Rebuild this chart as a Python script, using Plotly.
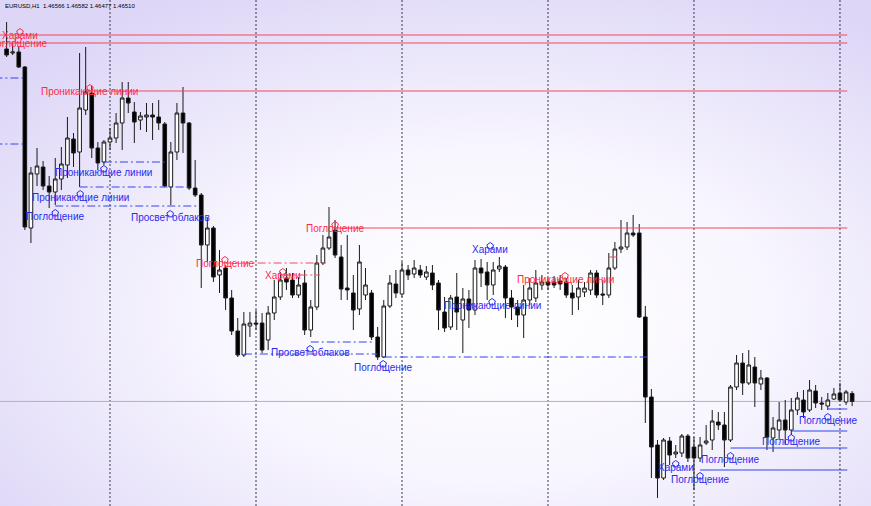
import base64
import plotly.graph_objects as go

# ---------------- data (EURUSD H1) ----------------
bars = list(range(140))

opens = [1.48977, 1.48949, 1.48956, 1.48851, 1.47724, 1.48102, 1.48151, 1.48018, 1.47976, 1.48067,
         1.48165, 1.48347, 1.48256, 1.48550, 1.48669, 1.48284, 1.48186, 1.48326, 1.48354, 1.48459,
         1.48634, 1.48536, 1.48480, 1.48501, 1.48515, 1.48501, 1.48452, 1.48011, 1.48256, 1.48529,
         1.48459, 1.48004, 1.47955, 1.47605, 1.47724, 1.47395, 1.47444, 1.47234, 1.47003, 1.46835,
         1.47038, 1.47059, 1.47059, 1.46940, 1.47129, 1.47241, 1.47374, 1.47360, 1.47255, 1.47339,
         1.47010, 1.47171, 1.47479, 1.47584, 1.47710, 1.47521, 1.47304, 1.47269, 1.47157, 1.47255,
         1.47269, 1.46961, 1.46821, 1.47178, 1.47332, 1.47262, 1.47430, 1.47402, 1.47430, 1.47381,
         1.47409, 1.47339, 1.47136, 1.47031, 1.47241, 1.47080, 1.47227, 1.47150, 1.47444, 1.47416,
         1.47325, 1.47437, 1.47451, 1.47234, 1.47171, 1.47115, 1.47220, 1.47234, 1.47325, 1.47346,
         1.47346, 1.47353, 1.47346, 1.47269, 1.47241, 1.47276, 1.47290, 1.47409, 1.47262, 1.47255,
         1.47444, 1.47577, 1.47591, 1.47689, 1.47689, 1.47101, 1.46541, 1.46205, 1.45974, 1.46233,
         1.46142, 1.46149, 1.46268, 1.46191, 1.46114, 1.46219, 1.46240, 1.46366, 1.46345, 1.46240,
         1.46611, 1.46779, 1.46639, 1.46751, 1.46632, 1.46674, 1.46254, 1.46310, 1.46380, 1.46310,
         1.46450, 1.46520, 1.46450, 1.46583, 1.46499, 1.46478, 1.46527, 1.46569, 1.46506, 1.46566]

closes = [1.48935, 1.48956, 1.48851, 1.47731, 1.48109, 1.48158, 1.48018, 1.47976, 1.48067, 1.48172,
          1.48354, 1.48249, 1.48564, 1.48676, 1.48284, 1.48179, 1.48326, 1.48354, 1.48459, 1.48634,
          1.48599, 1.48466, 1.48508, 1.48515, 1.48501, 1.48459, 1.48018, 1.48256, 1.48529, 1.48459,
          1.48004, 1.47955, 1.47605, 1.47724, 1.47381, 1.47430, 1.47234, 1.47003, 1.46835, 1.47052,
          1.47059, 1.47052, 1.46870, 1.47129, 1.47241, 1.47360, 1.47346, 1.47255, 1.47325, 1.47010,
          1.47171, 1.47479, 1.47584, 1.47661, 1.47535, 1.47297, 1.47290, 1.47150, 1.47486, 1.47325,
          1.46961, 1.46821, 1.47178, 1.47339, 1.47269, 1.47430, 1.47395, 1.47444, 1.47395, 1.47416,
          1.47325, 1.47150, 1.47024, 1.47234, 1.47136, 1.47227, 1.47150, 1.47444, 1.47409, 1.47325,
          1.47430, 1.47458, 1.47234, 1.47171, 1.47115, 1.47220, 1.47304, 1.47339, 1.47346, 1.47325,
          1.47325, 1.47332, 1.47255, 1.47234, 1.47304, 1.47304, 1.47409, 1.47255, 1.47255, 1.47444,
          1.47577, 1.47591, 1.47689, 1.47675, 1.47101, 1.46541, 1.46191, 1.45974, 1.46240, 1.46135,
          1.46156, 1.46268, 1.46114, 1.46114, 1.46205, 1.46233, 1.46373, 1.46345, 1.46240, 1.46611,
          1.46779, 1.46639, 1.46765, 1.46639, 1.46674, 1.46261, 1.46324, 1.46380, 1.46310, 1.46450,
          1.46534, 1.46436, 1.46590, 1.46499, 1.46492, 1.46520, 1.46562, 1.46520, 1.46576, 1.46510]

highs = [1.49166, 1.49026, 1.48991, 1.48858, 1.48151, 1.48284, 1.48193, 1.48088, 1.48214, 1.48291,
         1.48501, 1.48389, 1.48949, 1.48991, 1.48718, 1.48326, 1.48340, 1.48424, 1.48529, 1.48746,
         1.48746, 1.48606, 1.48536, 1.48599, 1.48599, 1.48620, 1.48466, 1.48326, 1.48599, 1.48711,
         1.48466, 1.48200, 1.47969, 1.47794, 1.47738, 1.47570, 1.47465, 1.47290, 1.47094, 1.47136,
         1.47136, 1.47150, 1.47129, 1.47178, 1.47360, 1.47416, 1.47444, 1.47409, 1.47381, 1.47430,
         1.47220, 1.47535, 1.47675, 1.47871, 1.47780, 1.47605, 1.47675, 1.47395, 1.47605, 1.47444,
         1.47290, 1.47031, 1.47220, 1.47395, 1.47430, 1.47486, 1.47465, 1.47500, 1.47465, 1.47458,
         1.47465, 1.47360, 1.47241, 1.47255, 1.47409, 1.47304, 1.47290, 1.47500, 1.47507, 1.47486,
         1.47486, 1.47521, 1.47465, 1.47290, 1.47220, 1.47325, 1.47374, 1.47430, 1.47395, 1.47374,
         1.47388, 1.47395, 1.47374, 1.47325, 1.47360, 1.47346, 1.47430, 1.47430, 1.47360, 1.47549,
         1.47626, 1.47780, 1.47766, 1.47815, 1.47752, 1.47178, 1.46597, 1.46240, 1.46254, 1.46261,
         1.46205, 1.46282, 1.46282, 1.46261, 1.46261, 1.46345, 1.46450, 1.46436, 1.46436, 1.46625,
         1.46835, 1.46849, 1.46870, 1.46821, 1.46730, 1.46681, 1.46401, 1.46506, 1.46520, 1.46534,
         1.46576, 1.46590, 1.46660, 1.46625, 1.46541, 1.46569, 1.46604, 1.46639, 1.46590, 1.46582]

lows = [1.48921, 1.48935, 1.48844, 1.47710, 1.47619, 1.48018, 1.47990, 1.47864, 1.47885, 1.47990,
        1.48074, 1.48151, 1.48011, 1.48515, 1.48214, 1.48130, 1.48165, 1.48270, 1.48319, 1.48270,
        1.48529, 1.48319, 1.48410, 1.48396, 1.48340, 1.48410, 1.48011, 1.47885, 1.48200, 1.48249,
        1.47990, 1.47941, 1.47304, 1.47486, 1.47346, 1.47269, 1.47150, 1.46975, 1.46821, 1.46821,
        1.46961, 1.47010, 1.46849, 1.46870, 1.47080, 1.47220, 1.47290, 1.47234, 1.47234, 1.46975,
        1.46961, 1.47150, 1.47465, 1.47570, 1.47514, 1.47220, 1.47220, 1.47010, 1.47115, 1.47220,
        1.46940, 1.46800, 1.46814, 1.47164, 1.47234, 1.47241, 1.47360, 1.47374, 1.47374, 1.47360,
        1.47290, 1.47010, 1.46996, 1.47010, 1.47010, 1.46849, 1.47024, 1.47115, 1.47311, 1.47220,
        1.47255, 1.47416, 1.47094, 1.47080, 1.47031, 1.46954, 1.47185, 1.47206, 1.47290, 1.47290,
        1.47304, 1.47290, 1.47234, 1.47115, 1.47150, 1.47241, 1.47255, 1.47234, 1.47185, 1.47234,
        1.47430, 1.47549, 1.47570, 1.47661, 1.47094, 1.46359, 1.45974, 1.45834, 1.45960, 1.46065,
        1.46114, 1.46121, 1.46086, 1.45890, 1.46086, 1.46205, 1.46170, 1.46310, 1.46051, 1.46226,
        1.46590, 1.46555, 1.46625, 1.46471, 1.46590, 1.46170, 1.46156, 1.46240, 1.46205, 1.46275,
        1.46415, 1.46394, 1.46436, 1.46464, 1.46450, 1.46450, 1.46520, 1.46506, 1.46485, 1.46477]

bid_price = 1.46510
title_text = "EURUSD,H1  1.46566 1.46582 1.46477 1.46510"
day_separators = [17, 41, 65, 89, 113, 137]

# pattern levels: (first bar, last bar, price)
red_solid_levels = [(-2, 138.2, 1.49075), (-2, 138.2, 1.49019), (13, 138.2, 1.48683), (54, 138.2, 1.47724)]
red_dash_levels = [(36, 52.5, 1.47479), (45.5, 51.5, 1.47395), (99, 100.5, 1.47521)]
blue_dash_levels = [(-2, 2.7, 1.48774), (-2, 2.7, 1.48312), (16, 26, 1.48186), (12, 30, 1.48011),
                    (8, 31.3, 1.47878), (50, 60.2, 1.46926), (39, 61, 1.46842), (62, 105.3, 1.46821)]
blue_solid_levels = [(114, 138.2, 1.46030), (119, 138.2, 1.46184), (129, 138.2, 1.46303), (135, 138.2, 1.46457)]

# pattern labels
red_label_text = ["Харами", "Поглощение", "Проникающие линии", "Поглощение", "Поглощение",
                  "Харами", "Проникающие линии"]
red_label_bar = [2.2, 1.9, 13.7, 54, 35.9, 45.4, 91.8]
red_label_price = [1.49075, 1.49019, 1.48683, 1.47724, 1.47479, 1.47395, 1.47367]

blue_label_text = ["Проникающие линии", "Проникающие линии", "Поглощение", "Просвет облаков",
                   "Просвет облаков", "Поглощение", "Харами", "Проникающие линии", "Харами",
                   "Поглощение", "Поглощение", "Поглощение", "Поглощение"]
blue_label_bar = [16, 12.1, 8, 26.9, 49.9, 61.9, 79.5, 79.8, 110, 114, 119, 129, 135]
blue_label_price = [1.48116, 1.47941, 1.47808, 1.47801, 1.46856, 1.46751, 1.47577, 1.47185,
                    1.46051, 1.45967, 1.46107, 1.46233, 1.46380]

# ---------------- figure ----------------
W, H = 871, 506
Y_MIN, Y_MAX = 1.45778, 1.4932
PX = (Y_MAX - Y_MIN) / H          # price per pixel
RED = "#ff2a45"
RED_LINE = "#f5475f"
BLUE = "#2a2af0"
BLUE_LINE = "#3344ee"
FONT = "Liberation Sans"

fig = go.Figure()
fig.add_trace(go.Candlestick(
    x=bars, open=opens, high=highs, low=lows, close=closes,
    increasing=dict(line=dict(color="#1a1a1a", width=1), fillcolor="#ffffff"),
    decreasing=dict(line=dict(color="#1a1a1a", width=1), fillcolor="#000000"),
    whiskerwidth=0, showlegend=False, hoverinfo="skip",
))

# arrow objects marking the pattern bars (drawn as open pentagon markers)
fig.add_trace(go.Scatter(
    x=red_label_bar, y=[p + 3 * PX for p in red_label_price], mode="markers",
    marker=dict(symbol="pentagon-open", size=7, color=RED, line=dict(width=1, color=RED)),
    showlegend=False, hoverinfo="skip", cliponaxis=False,
))
fig.add_trace(go.Scatter(
    x=blue_label_bar, y=[p + 3 * PX for p in blue_label_price], mode="markers",
    marker=dict(symbol="pentagon-open", size=7, color=BLUE, line=dict(width=1, color=BLUE)),
    showlegend=False, hoverinfo="skip", cliponaxis=False,
))

shapes = []
for b in day_separators:
    shapes.append(dict(type="line", xref="x", yref="paper", x0=b, x1=b, y0=0, y1=1,
                       line=dict(color="#3a3a4a", width=1, dash="2px,2px"), layer="below"))
shapes.append(dict(type="line", xref="paper", yref="y", x0=0, x1=1, y0=bid_price, y1=bid_price,
                   line=dict(color="#b4b0c0", width=1), layer="below"))

for x0, x1, p in red_solid_levels:
    shapes.append(dict(type="line", xref="x", yref="y", x0=x0, x1=x1, y0=p, y1=p,
                       line=dict(color=RED_LINE, width=1), layer="above"))
for x0, x1, p in red_dash_levels:
    shapes.append(dict(type="line", xref="x", yref="y", x0=x0, x1=x1, y0=p, y1=p,
                       line=dict(color=RED_LINE, width=1, dash="8px,3px,2px,3px"), layer="above"))
for x0, x1, p in blue_dash_levels:
    shapes.append(dict(type="line", xref="x", yref="y", x0=x0, x1=x1, y0=p, y1=p,
                       line=dict(color=BLUE_LINE, width=1, dash="8px,3px,2px,3px"), layer="above"))
for x0, x1, p in blue_solid_levels:
    shapes.append(dict(type="line", xref="x", yref="y", x0=x0, x1=x1, y0=p, y1=p,
                       line=dict(color=BLUE_LINE, width=1), layer="above"))

annotations = []
for t, b, p in zip(red_label_text, red_label_bar, red_label_price):
    annotations.append(dict(x=b, y=p, xref="x", yref="y", text=t, showarrow=False,
                            xanchor="center", yanchor="middle",
                            font=dict(family=FONT, size=10, color=RED)))
for t, b, p in zip(blue_label_text, blue_label_bar, blue_label_price):
    annotations.append(dict(x=b, y=p, xref="x", yref="y", text=t, showarrow=False,
                            xanchor="center", yanchor="middle",
                            font=dict(family=FONT, size=10, color=BLUE)))

annotations.append(dict(x=0.003, y=1 - 6 / H, xref="paper", yref="paper", text=title_text,
                        showarrow=False, xanchor="left", yanchor="middle",
                        font=dict(family=FONT, size=6, color="#000000")))

svg = ('<svg xmlns="http://www.w3.org/2000/svg" width="871" height="506">'
       '<defs><radialGradient id="g" cx="0.56" cy="0.62" r="0.72">'
       '<stop offset="0" stop-color="#ffffff"/><stop offset="0.45" stop-color="#f8f6fe"/>'
       '<stop offset="1" stop-color="#ddd6f7"/></radialGradient></defs>'
       '<rect width="871" height="506" fill="url(#g)"/></svg>')
bg_src = "data:image/svg+xml;base64," + base64.b64encode(svg.encode()).decode()

fig.update_layout(
    width=W, height=H,
    margin=dict(l=0, r=0, t=0, b=0),
    paper_bgcolor="#ffffff",
    plot_bgcolor="rgba(0,0,0,0)",
    boxgap=0.15,
    shapes=shapes,
    annotations=annotations,
    images=[dict(source=bg_src, xref="paper", yref="paper", x=0, y=1, sizex=1, sizey=1,
                 sizing="stretch", layer="below", xanchor="left", yanchor="top")],
    xaxis=dict(range=[-1.085, 142.1], visible=False, rangeslider=dict(visible=False),
               showgrid=False, zeroline=False),
    yaxis=dict(range=[Y_MIN, Y_MAX], visible=False, showgrid=False, zeroline=False),
    showlegend=False,
)

fig.write_html("out.html", config={"displayModeBar": False},
               post_script="document.body.style.margin='0';document.body.style.overflow='hidden';")
